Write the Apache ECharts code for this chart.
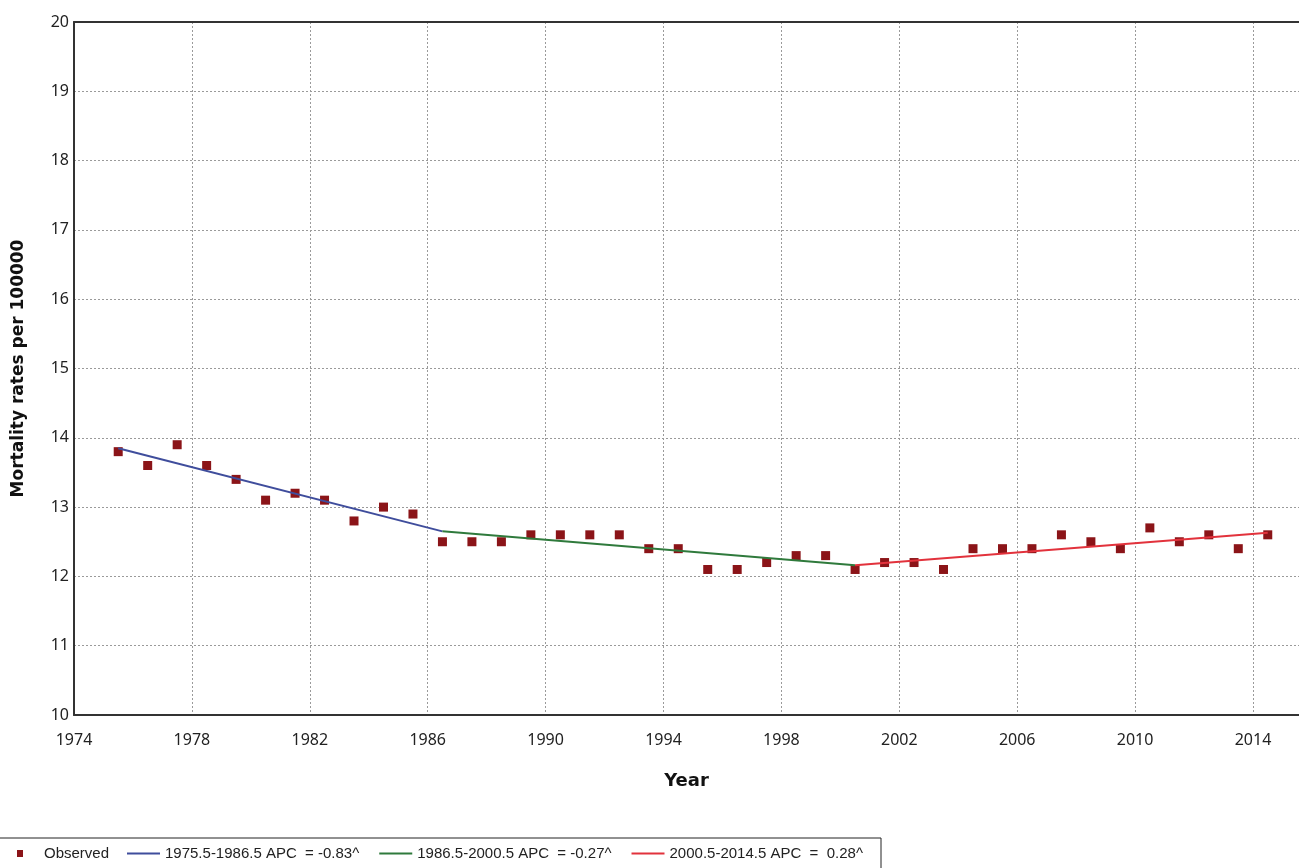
<!DOCTYPE html>
<html>
<head>
<meta charset="utf-8">
<title>Mortality rates per 100000</title>
<script src="https://cdn.jsdelivr.net/npm/echarts@6/dist/echarts.min.js"></script>
<style>
  html, body { margin: 0; padding: 0; background: #ffffff; }
  #chart { width: 1299px; height: 868px; }
</style>
</head>
<body>
<div id="chart"></div>
<script>
// Observed annual mortality rates (per 100000), mid-year points
const years = [
  1975.5, 1976.5, 1977.5, 1978.5, 1979.5, 1980.5, 1981.5, 1982.5, 1983.5, 1984.5,
  1985.5, 1986.5, 1987.5, 1988.5, 1989.5, 1990.5, 1991.5, 1992.5, 1993.5, 1994.5,
  1995.5, 1996.5, 1997.5, 1998.5, 1999.5, 2000.5, 2001.5, 2002.5, 2003.5, 2004.5,
  2005.5, 2006.5, 2007.5, 2008.5, 2009.5, 2010.5, 2011.5, 2012.5, 2013.5, 2014.5
];
const rates = [
  13.8, 13.6, 13.9, 13.6, 13.4, 13.1, 13.2, 13.1, 12.8, 13.0,
  12.9, 12.5, 12.5, 12.5, 12.6, 12.6, 12.6, 12.6, 12.4, 12.4,
  12.1, 12.1, 12.2, 12.3, 12.3, 12.1, 12.2, 12.2, 12.1, 12.4,
  12.4, 12.4, 12.6, 12.5, 12.4, 12.7, 12.5, 12.6, 12.4, 12.6
];

// Joinpoint segments: start/end year and fitted rate at each end
const segStartYear = [1975.5, 1986.5, 2000.5];
const segEndYear   = [1986.5, 2000.5, 2014.5];
const segStartFit  = [13.85, 12.65, 12.16];
const segEndFit    = [12.65, 12.16, 12.63];
const segLabels = [
  '1975.5-1986.5 APC  = -0.83^',
  '1986.5-2000.5 APC  = -0.27^',
  '2000.5-2014.5 APC  =  0.28^'
];
const segColors = ['#3f4d9c', '#2f7a3c', '#e2323c'];

const observedName = 'Observed';
const xTitle = 'Year';
const yTitle = 'Mortality rates per 100000';

const chart = echarts.init(document.getElementById('chart'), null, { renderer: 'canvas' });

const lineSeries = segLabels.map((name, i) => ({
  name: name,
  type: 'line',
  symbol: 'none',
  z: 5,
  data: [[segStartYear[i], segStartFit[i]], [segEndYear[i], segEndFit[i]]],
  lineStyle: { color: segColors[i], width: 2 },
  itemStyle: { color: segColors[i] },
  animation: false
}));

const gridLine = { show: true, lineStyle: { color: '#9a9a9a', type: [2, 2], width: 1 } };
const frameLine = { show: true, onZero: false, lineStyle: { color: '#333333', width: 2 } };

chart.setOption({
  backgroundColor: '#ffffff',
  animation: false,
  grid: { left: 74, top: 22, width: 1225, height: 693 },
  xAxis: [
    {
      type: 'value',
      min: 1974, max: 2015.56, interval: 4,
      name: xTitle,
      nameLocation: 'middle',
      nameGap: 57,
      nameTextStyle: { fontFamily: 'DejaVu Sans', fontWeight: 'bold', fontSize: 18, color: '#111' },
      axisLine: frameLine,
      axisTick: { show: false },
      axisLabel: {
        showMaxLabel: false,
        margin: 17,
        fontFamily: 'Noto Sans', fontSize: 16, color: '#222',
        formatter: v => String(v)
      },
      splitLine: gridLine
    },
    {
      // top frame edge
      type: 'value',
      position: 'top',
      min: 1974, max: 2015.56,
      axisLine: frameLine,
      axisTick: { show: false },
      axisLabel: { show: false },
      splitLine: { show: false }
    }
  ],
  yAxis: {
    type: 'value',
    min: 10, max: 20, interval: 1,
    name: yTitle,
    nameLocation: 'middle',
    nameGap: 47,
    nameTextStyle: { fontFamily: 'DejaVu Sans', fontWeight: 'bold', fontSize: 17, color: '#111' },
    axisLine: frameLine,
    axisTick: { show: false },
    axisLabel: { margin: 5, fontFamily: 'Noto Sans', fontSize: 16, color: '#222' },
    splitLine: gridLine
  },
  legend: [
    {
      data: [observedName],
      left: 12, top: 841,
      icon: 'rect',
      itemWidth: 6, itemHeight: 7,
      textStyle: { fontFamily: 'Liberation Sans', fontSize: 15, color: '#222', padding: [0, 0, 0, 16] },
      selectedMode: false
    },
    {
      data: segLabels,
      left: 122, top: 841,
      icon: 'rect',
      itemWidth: 33, itemHeight: 2, itemGap: 20,
      textStyle: { fontFamily: 'Liberation Sans', fontSize: 15, color: '#222', width: 191 },
      selectedMode: false
    }
  ],
  graphic: [
    {
      type: 'rect',
      shape: { x: -1, y: 838, width: 882, height: 40 },
      style: { fill: 'none', stroke: '#222', lineWidth: 1 },
      silent: true
    }
  ],
  series: [
    {
      name: observedName,
      type: 'scatter',
      symbol: 'rect',
      symbolSize: 9,
      z: 3,
      data: years.map((y, i) => [y, rates[i]]),
      itemStyle: { color: '#8b1418', opacity: 1 }
    }
  ].concat(lineSeries)
});
</script>
</body>
</html>
